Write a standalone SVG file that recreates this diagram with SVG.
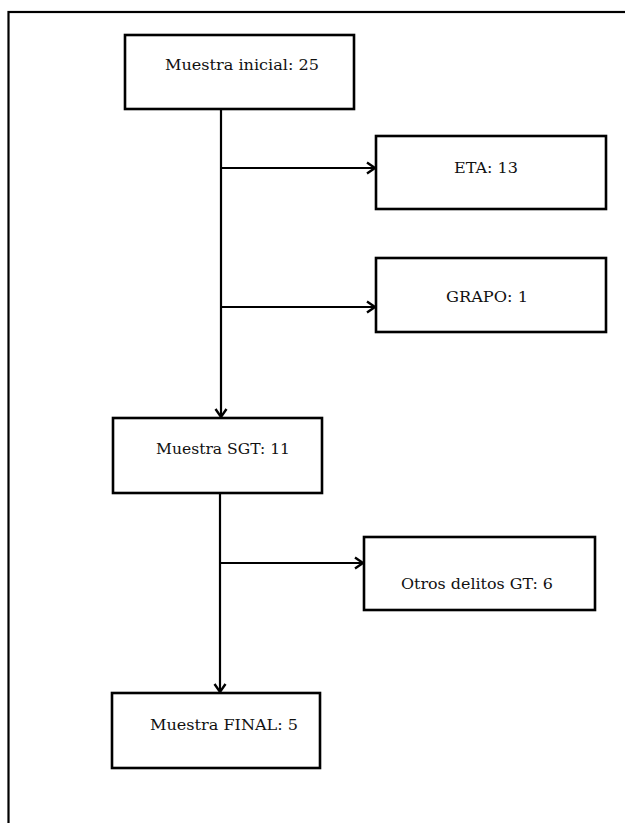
<svg xmlns="http://www.w3.org/2000/svg" width="625" height="823" viewBox="0 0 625 823">
<style>
.box{fill:#fff;stroke:#000;stroke-width:2.6}
.lbl{font-family:"DejaVu Serif","Liberation Serif",serif;font-size:14px;fill:#111}
.con{stroke:#000;stroke-width:2.2;fill:none}
</style>
<defs>
<marker id="arr" markerWidth="14" markerHeight="14" refX="11" refY="7" orient="auto" markerUnits="userSpaceOnUse">
<path d="M3,1.5 L11,7 L3,12.5" fill="none" stroke="#000" stroke-width="2.4"/>
</marker>
</defs>
<rect width="625" height="823" fill="#fff"/>
<rect x="8.5" y="12" width="640" height="830" fill="none" stroke="#000" stroke-width="2.2"/>
<g id="connectors">
<path class="con" d="M221,109 L221,417" marker-end="url(#arr)"/>
<path class="con" d="M221,168 L375,168" marker-end="url(#arr)"/>
<path class="con" d="M221,307 L375,307" marker-end="url(#arr)"/>
<path class="con" d="M220,493 L220,692" marker-end="url(#arr)"/>
<path class="con" d="M220,563 L363,563" marker-end="url(#arr)"/>
</g>
<g id="n_inicial">
<rect class="box" x="125" y="35" width="229" height="74"/>
<text class="lbl" x="165" y="70" textLength="154" lengthAdjust="spacingAndGlyphs">Muestra inicial: 25</text>
</g>
<g id="n_eta">
<rect class="box" x="376" y="136" width="230" height="73"/>
<text class="lbl" x="454" y="173" textLength="64" lengthAdjust="spacingAndGlyphs">ETA: 13</text>
</g>
<g id="n_grapo">
<rect class="box" x="376" y="258" width="230" height="74"/>
<text class="lbl" x="446" y="302" textLength="82" lengthAdjust="spacingAndGlyphs">GRAPO: 1</text>
</g>
<g id="n_sgt">
<rect class="box" x="113" y="418" width="209" height="75"/>
<text class="lbl" x="156" y="454" textLength="134" lengthAdjust="spacingAndGlyphs">Muestra SGT: 11</text>
</g>
<g id="n_otros">
<rect class="box" x="364" y="537" width="231" height="73"/>
<text class="lbl" x="401" y="589" textLength="152" lengthAdjust="spacingAndGlyphs">Otros delitos GT: 6</text>
</g>
<g id="n_final">
<rect class="box" x="112" y="693" width="208" height="75"/>
<text class="lbl" x="150" y="730" textLength="148" lengthAdjust="spacingAndGlyphs">Muestra FINAL: 5</text>
</g>
</svg>
